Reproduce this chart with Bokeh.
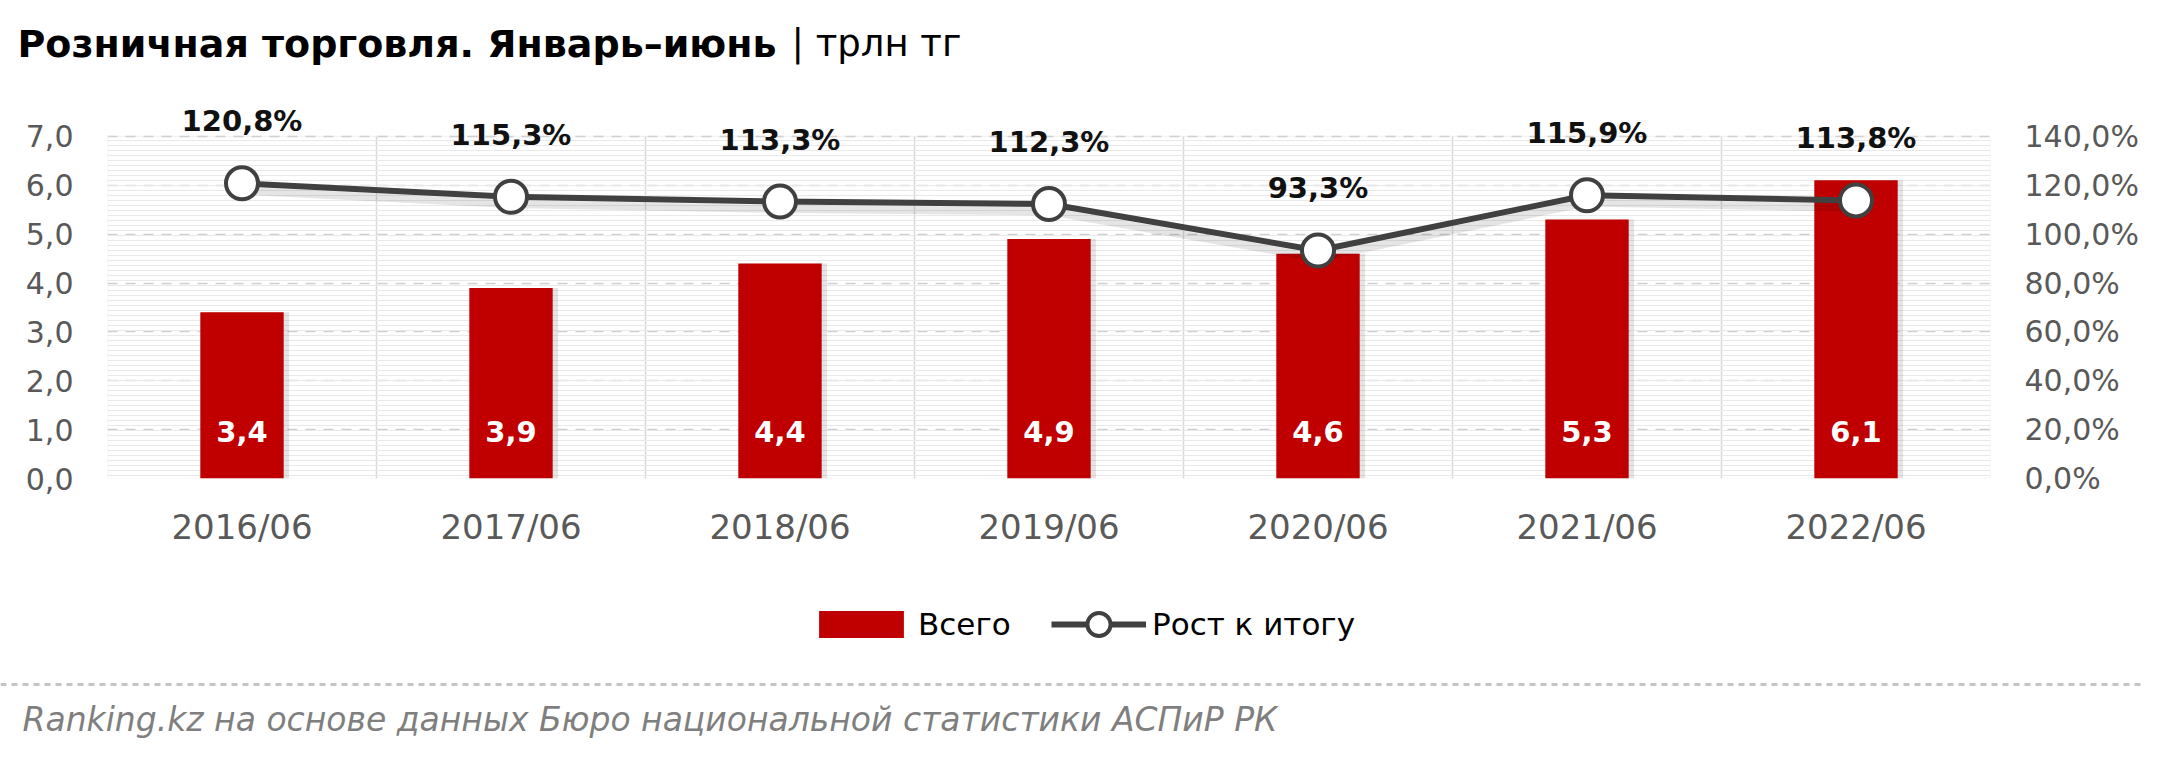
from bokeh.plotting import figure
from bokeh.models import (Range1d, LinearAxis, FixedTicker, CustomJSTickFormatter, Legend,
                          LegendItem, BoxAnnotation, ColumnDataSource, Label, Span)
from bokeh.transform import dodge
from bokeh.layouts import column
from bokeh.core.properties import value
from bokeh.embed import file_html
from bokeh.resources import INLINE

# ---- data ----
categories = ["2016/06", "2017/06", "2018/06", "2019/06", "2020/06", "2021/06", "2022/06"]
totals = [3.4, 3.9, 4.4, 4.9, 4.6, 5.3, 6.1]               # трлн тг
growth = [120.8, 115.3, 113.3, 112.3, 93.3, 115.9, 113.8]   # %
left_ticks = [0, 1, 2, 3, 4, 5, 6, 7]
right_ticks = [0, 20, 40, 60, 80, 100, 120, 140]

title_main = "Розничная торговля. Январь–июнь"
title_unit = "| трлн тг"
legend_bar = "Всего"
legend_line = "Рост к итогу"
footer_text = "Ranking.kz на основе данных Бюро национальной статистики АСПиР РК"

FONT = "DejaVu Sans"
RED = "#C00000"
DARK = "#404040"
GRAY_TXT = "#595959"
GRID = "#d9d9d9"
W = 2144


def fmt(v):
    return f"{v:.1f}".replace(".", ",")


def bare(fig):
    fig.outline_line_color = None
    fig.grid.visible = False
    fig.title.text = ""
    if "frame_align" in fig.properties():
        fig.frame_align = False
    return fig


src = ColumnDataSource(dict(
    cat=categories,
    total=totals,
    growth=growth,
    total_lbl=[fmt(v) for v in totals],
    growth_lbl=[fmt(v) + "%" for v in growth],
))
bounds_src = ColumnDataSource(dict(cat=categories[:-1]))

# ================= header =================
hf = bare(figure(width=W, height=87, x_range=Range1d(0, 1), y_range=Range1d(0, 1),
                 x_axis_location=None, y_axis_location=None, toolbar_location=None,
                 output_backend="svg", min_border=0))
hf.add_layout(Label(x=17, y=44, x_units="screen", y_units="screen", text=title_main,
                    text_font=FONT, text_font_style="bold", text_font_size="38px",
                    text_color="#000000", text_baseline="alphabetic"))
hf.add_layout(Label(x=791, y=44, x_units="screen", y_units="screen", text=title_unit,
                    text_font=FONT, text_font_size="37px",
                    text_color="#000000", text_baseline="alphabetic"))

# ================= main chart =================
p = figure(x_range=categories, y_range=Range1d(0, 8), width=W, height=503,
           output_backend="svg", toolbar_location=None,
           min_border_left=107, min_border_right=154, min_border_top=0,
           min_border_bottom=112)
p.extra_y_ranges = {"pct": Range1d(0, 160)}
p.outline_line_color = None
p.title.text = ""
if "frame_align" in p.properties():
    p.frame_align = False

# plot area (0..7) with stripe texture and light border
p.add_layout(BoxAnnotation(bottom=0, top=left_ticks[-1], fill_alpha=0,
                           line_color=GRID, line_width=1.5,
                           hatch_pattern="horizontal_line", hatch_color="#e9e9e9",
                           hatch_scale=5, hatch_weight=1, level="underlay"))

# category separators
p.segment(x0=dodge("cat", 0.5, range=p.x_range), x1=dodge("cat", 0.5, range=p.x_range),
          y0=0, y1=left_ticks[-1], source=bounds_src, line_color=GRID, line_width=1.5,
          level="underlay")

# axes
yl = p.yaxis[0]
yl.ticker = FixedTicker(ticks=left_ticks)
yl.formatter = CustomJSTickFormatter(code="return tick.toFixed(1).replace('.', ',');")
right = LinearAxis(y_range_name="pct", ticker=FixedTicker(ticks=right_ticks),
                   formatter=CustomJSTickFormatter(code="return tick.toFixed(1).replace('.', ',') + '%';"))
p.add_layout(right, "right")

for ax in [yl, right]:
    ax.axis_line_color = None
    ax.major_tick_line_color = None
    ax.minor_tick_line_color = None
    ax.major_label_text_font = FONT
    ax.major_label_text_font_size = "30px"
    ax.major_label_text_color = GRAY_TXT
    ax.major_label_standoff = 28

xa = p.xaxis[0]
xa.axis_line_color = None
xa.major_tick_line_color = None
xa.minor_tick_line_color = None
xa.major_label_text_font = FONT
xa.major_label_text_font_size = "34px"
xa.major_label_text_color = GRAY_TXT
xa.major_label_standoff = 22

p.ygrid.ticker = FixedTicker(ticks=left_ticks)
p.ygrid.grid_line_color = "#cfcfcf"
p.ygrid.grid_line_dash = "10 8"
p.ygrid.grid_line_width = 1.5
p.xgrid.visible = False

# bar shadow + bars
p.vbar(x=dodge("cat", 0.02, range=p.x_range), top="total", width=0.31, source=src,
       fill_color="black", fill_alpha=0.10, line_color=None)
p.vbar(x="cat", top="total", width=0.31, source=src, fill_color=RED, line_color=None)

# line shadow + line + markers
p.line(x="cat", y=dodge("growth", -3), source=src, y_range_name="pct",
       line_color="black", line_alpha=0.10, line_width=8)
p.line(x="cat", y="growth", source=src, y_range_name="pct", line_color=DARK, line_width=6)
p.scatter(x="cat", y="growth", source=src, y_range_name="pct", size=32,
          fill_color="white", line_color=DARK, line_width=4)

# data labels
p.text(x="cat", y="growth", text="growth_lbl", source=src, y_range_name="pct",
       y_offset=-62, text_align="center", text_baseline="middle",
       text_font=value(FONT), text_font_style="bold", text_font_size="29px",
       text_color="#111111")
p.text(x="cat", y=0, text="total_lbl", source=src,
       y_offset=-47, text_align="center", text_baseline="middle",
       text_font=value(FONT), text_font_style="bold", text_font_size="29px",
       text_color="white")

# ================= legend + footer =================
# the legend keys reuse the chart data; the y window (200..366) lies above every
# value, so these renderers draw nothing but their legend keys
bf = bare(figure(width=W, height=166, x_range=categories, y_range=Range1d(200, 366),
                 x_axis_location=None, y_axis_location=None, toolbar_location=None,
                 output_backend="svg", min_border=0))
lg_bar = bf.vbar(x="cat", top="total", width=0.31, source=src, fill_color=RED, line_color=None)
lg_line = bf.line(x="cat", y="growth", source=src, line_color=DARK, line_width=6)
lg_pts = bf.scatter(x="cat", y="growth", source=src, size=32, fill_color="white",
                    line_color=DARK, line_width=4)

common = dict(orientation="horizontal", label_text_font=FONT, label_text_font_size="31px",
              label_text_color="#000000", border_line_color=None,
              background_fill_alpha=0, padding=0, margin=0)
legend_a = Legend(items=[LegendItem(label=legend_bar, renderers=[lg_bar])],
                  location=(808, 114), glyph_width=106, glyph_height=34,
                  label_standoff=4, **common)
legend_b = Legend(items=[LegendItem(label=legend_line, renderers=[lg_line, lg_pts])],
                  location=(1051, 103), glyph_width=95, glyph_height=58,
                  label_standoff=6, **common)
bf.add_layout(legend_a)
bf.add_layout(legend_b)
bf.add_layout(Span(location=272, dimension="width", line_color="#c4c4c4",
                   line_dash="6 5", line_width=3))
bf.add_layout(Label(x=22, y=37, x_units="screen", y_units="screen", text=footer_text,
                    text_font=FONT, text_font_style="italic", text_font_size="33px",
                    text_color="#7f7f7f", text_baseline="middle"))

layout = column(hf, p, bf, spacing=0)
open("out.html", "w").write(file_html(layout, INLINE))
